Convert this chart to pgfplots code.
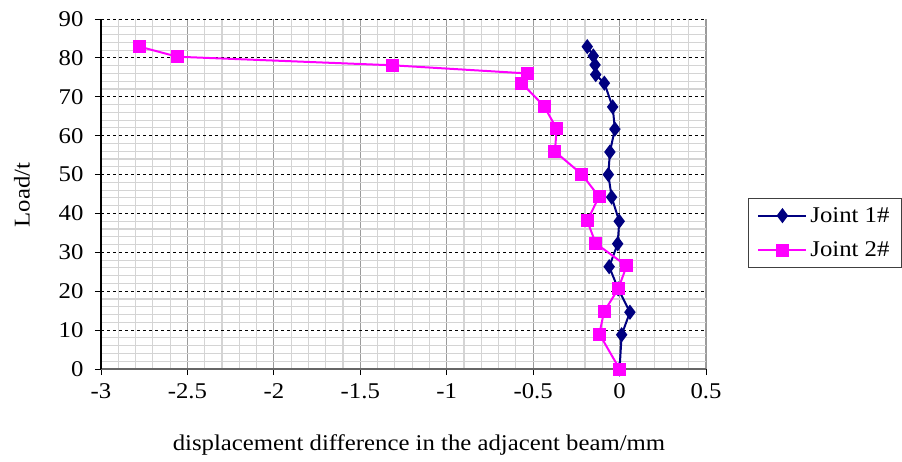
\documentclass[border=0pt]{standalone}
\usepackage{fontspec}
\setmainfont{Liberation Serif}[FakeStretch=1.1]
\usepackage{pgfplots}
\pgfplotsset{compat=1.18}
\definecolor{jnavy}{RGB}{0,0,128}
\definecolor{jmag}{RGB}{255,0,255}
\definecolor{majgray}{RGB}{155,155,155}
\definecolor{mingray}{RGB}{212,212,212}
\newcommand{\cf}{\fontsize{22.5pt}{27pt}\selectfont}
\begin{document}
\begin{tikzpicture}
\useasboundingbox (0pt,0pt) rectangle (902pt,461pt);
\begin{axis}[
  at={(101pt,92pt)}, anchor=south west,
  scale only axis, width=605pt, height=350pt,
  xmin=-3, xmax=0.5, ymin=0, ymax=90,
  xtick={-3,-2.5,-2,-1.5,-1,-0.5,0,0.5},
  xticklabels={-3,-2.5,-2,-1.5,-1,-0.5,0,0.5},
  ytick={0,10,20,30,40,50,60,70,80,90},
  yticklabels={0,10,20,30,40,50,60,70,80,90},
  minor x tick num=4, minor y tick num=4,
  grid=both,
  minor grid style={draw=mingray, line width=1.2pt},
  major x grid style={draw=majgray, line width=1.2pt},
  major y grid style={draw=black, dashed, line width=0.9pt},
  axis x line*=bottom, axis y line*=left,
  x axis line style={-, draw=black!60, line width=1.4pt},
  y axis line style={-, draw=black, line width=1.2pt},
  tick align=outside, major tick length=6pt, minor tick length=0pt,
  tick style={black, line width=0.9pt},
  tick label style={font=\cf},
  xticklabel style={yshift=-5pt},
  yticklabel style={xshift=-8pt},
  label style={font=\cf},
  xlabel={displacement difference in the adjacent beam/mm},
  ylabel={Load/t},
  xlabel style={at={(axis description cs:0.5256,-0.217)}, anchor=center},
  ylabel style={at={(axis description cs:-0.1306,0.497)}, anchor=center},
  legend style={at={(1.0694,0.389)}, anchor=west, draw=black!75, line width=0.9pt,
    font=\cf, row sep=14pt, inner xsep=9pt, inner ysep=7pt,
    nodes={inner xsep=3pt}},
  legend cell align=left,
  legend image code/.code={\draw[mark repeat=2,mark phase=2,#1] plot coordinates {(0pt,0pt) (24pt,0pt) (48pt,0pt)};},
]
\addplot[jnavy, line width=2pt, mark=diamond*, mark size=6pt, mark options={solid, fill=jnavy}] coordinates {
(0,0) (0.012,8.8) (0.060,14.6) (-0.008,20.6) (-0.060,26.3) (-0.011,32.2) (-0.002,38.0)
(-0.046,44.2) (-0.065,50.0) (-0.056,55.8) (-0.027,61.7) (-0.040,67.4) (-0.088,73.5)
(-0.138,75.7) (-0.142,78.2) (-0.152,80.5) (-0.187,82.9)
};
\addlegendentry{Joint 1\#}
\addplot[jmag, line width=2pt, mark=square*, mark size=5.5pt, mark options={solid, fill=jmag}] coordinates {
(0,0) (-0.117,9.0) (-0.090,14.7) (-0.008,20.6) (0.041,26.5) (-0.138,32.3) (-0.187,38.1)
(-0.119,44.3) (-0.219,50.1) (-0.374,55.9) (-0.364,61.8) (-0.437,67.6) (-0.566,73.5)
(-0.534,76.0) (-1.315,78.1) (-2.558,80.3) (-2.778,82.9)
};
\addlegendentry{Joint 2\#}
\end{axis}
\end{tikzpicture}
\end{document}
